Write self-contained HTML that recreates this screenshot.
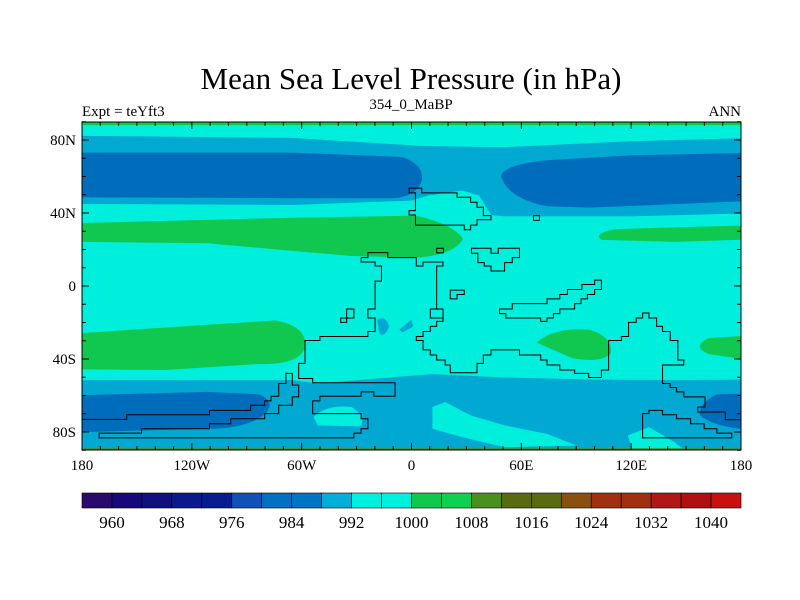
<!DOCTYPE html>
<html><head><meta charset="utf-8">
<style>
html,body{margin:0;padding:0;background:#fff;}
svg{display:block;font-family:"Liberation Serif",serif;}
</style></head>
<body>
<svg id="chart" width="800" height="600" viewBox="0 0 800 600">
<text x="411" y="89" text-anchor="middle" font-size="31">Mean Sea Level Pressure (in hPa)</text>
<text x="82" y="116" font-size="15">Expt = teYft3</text>
<text x="411" y="109" text-anchor="middle" font-size="15">354_0_MaBP</text>
<text x="741" y="116" text-anchor="end" font-size="15">ANN</text>
<defs><clipPath id="pc"><rect x="82" y="122" width="659" height="328"/></clipPath></defs>
<g clip-path="url(#pc)">
<rect x="82" y="122" width="659" height="328" fill="#00eedc"/>
<g transform="translate(80,115) scale(0.4246,0.3356)">
<rect x="0" y="0" width="1600" height="30" fill="#10c850"/>
<path d="M0,62 L500,68 L800,92 L1000,96 L1300,78 L1600,68 L1600,292 L1300,302 L1000,302 L968,298 L940,240 L900,225 L820,240 L780,255 L500,268 L0,265 Z" fill="#00a8d2"/>
<path d="M0,112 L500,112 L760,125 Q812,150 805,195 Q795,240 740,248 L500,248 L0,245 Z" fill="#006cbc"/>
<path d="M1600,112 L1300,120 L1100,135 Q990,150 992,185 Q1010,250 1100,272 L1200,276 L1600,255 Z" fill="#006cbc"/>
<path d="M0,322 L500,306 L790,300 Q880,325 902,370 Q880,418 790,425 L640,420 L500,405 L300,382 L0,378 Z" fill="#10c850"/>
<path d="M1600,328 L1400,335 L1260,340 Q1205,355 1230,372 L1400,378 L1600,370 Z" fill="#10c850"/>
<path d="M0,650 L300,625 L460,612 Q535,630 530,690 Q520,745 420,742 L200,760 L0,758 Z" fill="#10c850"/>
<path d="M1075,678 Q1120,630 1200,640 Q1255,660 1250,710 Q1230,740 1160,725 Z" fill="#10c850"/>
<path d="M1600,655 L1480,665 Q1440,690 1480,712 L1600,735 Z" fill="#10c850"/>
<path d="M0,790 L500,790 L560,800 L700,785 L830,772 L1000,782 L1200,788 L1400,790 L1600,788 L1600,1010 L0,1010 Z" fill="#00a8d2"/>
<path d="M550,900 Q580,862 640,870 Q675,900 660,928 L560,925 Z" fill="#00eedc"/>
<path d="M830,870 L860,855 L920,895 L1000,925 L1100,950 L1170,985 L1000,990 L900,960 L830,935 Z" fill="#00eedc"/>
<path d="M1290,955 L1340,930 L1400,975 L1420,995 L1300,995 Z" fill="#00eedc"/>
<path d="M0,835 L300,825 L420,832 Q460,850 440,885 Q400,935 300,935 L0,945 Z" fill="#006cbc"/>
<path d="M1600,830 L1500,832 Q1455,860 1460,895 Q1500,935 1600,940 Z" fill="#006cbc"/>
<path d="M700,610 Q720,595 728,630 Q718,665 705,650 Z" fill="#00a8d2"/>
<path d="M752,640 L780,610 L785,630 L760,648 Z" fill="#00a8d2"/>
<rect x="0" y="993" width="1600" height="10" fill="#4a9020"/>
<g fill="none" stroke="#000" stroke-width="1" vector-effect="non-scaling-stroke">
<path vector-effect="non-scaling-stroke" d="M775,218 L805,218 L805,232 L888,232 L888,245 L920,245 L920,260 L935,260 L935,275 L950,275 L950,300 L968,300 L968,312 L935,312 L935,328 L920,328 L920,342 L905,342 L905,328 L790,328 L790,298 L775,298 L775,285 L790,285 L790,232 L775,232 Z"/>
<path vector-effect="non-scaling-stroke" d="M1068,300 L1082,300 L1082,314 L1068,314 Z M840,397 L856,397 L856,411 L840,411 Z M872,522 L905,522 L905,535 L888,535 L888,548 L872,548 Z M628,578 L645,578 L645,605 L628,605 L628,618 L614,618 L614,605 L628,605 Z"/>
<path vector-effect="non-scaling-stroke" d="M922,397 L968,397 L968,412 L985,412 L985,397 L1035,397 L1035,425 L1018,425 L1018,440 L1000,440 L1000,465 L968,465 L968,450 L952,450 L952,440 L937,440 L937,412 L922,412 Z"/>
<path vector-effect="non-scaling-stroke" d="M988,578 L1018,578 L1018,562 L1100,562 L1100,548 L1130,548 L1130,535 L1148,535 L1148,520 L1182,520 L1182,505 L1212,505 L1212,492 L1228,492 L1228,520 L1212,520 L1212,535 L1195,535 L1195,548 L1180,548 L1180,562 L1165,562 L1165,578 L1130,578 L1130,592 L1115,592 L1115,605 L1100,605 L1100,615 L1085,615 L1085,605 L1003,605 L1003,592 L988,592 Z"/>
<path vector-effect="non-scaling-stroke" d="M662,425 L678,425 L678,410 L725,410 L725,425 L792,425 L792,450 L808,450 L808,438 L855,438 L855,450 L840,450 L840,578 L855,578 L855,605 L825,605 L825,578 L840,578 M855,605 L855,615 L840,615 L840,630 L825,630 L825,645 L808,645 L808,660 L792,660 L792,672 L808,672 L808,700 L825,700 L825,715 L840,715 L840,730 L860,730 L860,745 L872,745 L872,768 L935,768 L935,740 L950,740 L950,715 L968,715 L968,700 L1035,700 L1035,715 L1085,715 L1085,730 L1100,730 L1100,745 L1130,745 L1130,760 L1165,760 L1165,770 L1198,770 L1198,782 L1228,782 L1228,760 L1245,760 L1245,672 L1275,672 L1275,660 L1292,660 L1292,618 L1310,618 L1310,605 L1325,605 L1325,590 L1340,590 L1340,605 L1358,605 L1358,630 L1372,630 L1372,645 L1390,645 L1390,672 L1408,672 L1408,730 L1422,730 L1422,745 L1372,745 L1372,800 L1390,800 L1390,812 L1405,812 L1405,825 L1422,825 L1422,840 L1472,840 L1472,870 L1455,870 L1455,885 L1520,885 L1520,908 L1600,908"/>
<path vector-effect="non-scaling-stroke" d="M662,425 L662,438 L695,438 L695,450 L710,450 L710,495 L695,495 L695,578 L678,578 L678,605 L695,605 L695,645 L678,645 L678,660 L565,660 L565,672 L530,672 L530,740 L515,740 L515,785 L548,785 L548,798 L742,798 L742,838 L692,838 L692,825 L662,825 L662,838 L565,838 L565,852 L548,852 L548,890 L662,890 L662,905 L678,905 L678,935 L662,935 L662,948 L645,948 L645,962 L45,962 L45,948 L145,948 L145,935 L305,935 L305,920 L355,920 L355,905 L435,905 L435,890 L468,890 L468,865 L500,865 L500,840 L515,840 L515,805 L500,805 L500,770 L485,770 L485,800 L468,800 L468,838 L450,838 L450,852 L435,852 L435,865 L402,865 L402,880 L305,880 L305,893 L110,893 L110,907 L0,907"/>
<path vector-effect="non-scaling-stroke" d="M1325,955 L1325,890 L1340,890 L1340,880 L1372,880 L1372,893 L1405,893 L1405,905 L1438,905 L1438,920 L1470,920 L1470,935 L1500,935 L1500,948 L1535,948 L1535,962 L1325,962 Z"/>
</g>
</g>
</g>
<rect x="82" y="122" width="659" height="328" fill="none" stroke="#000" stroke-width="1"/>
<g id="axes"></g>
<g id="colorbar"></g>
<script>
var lonTicks=[-180,-120,-60,0,60,120,180];
var lonLabels=["180","120W","60W","0","60E","120E","180"];
var latTicks=[80,40,0,-40,-80];
var latLabels=["80N","40N","0","40S","80S"];
var cbLevels=[960,964,968,972,976,980,984,988,992,996,1000,1004,1008,1012,1016,1020,1024,1028,1032,1036,1040];
var cbLabels=[960,968,976,984,992,1000,1008,1016,1024,1032,1040];
var cbColors=["#2a0a6a","#160a7a","#10107e","#0a1a8e","#081c92","#1050b8","#0070c0","#0074c4","#00aed8","#00f0e0","#00f0e0","#10c850","#10d050","#4a9020","#5a6a10","#5a6a10","#8a5010","#a03010","#a03010","#b01818","#b01010","#c81010"];
var NS="http://www.w3.org/2000/svg";
function xs(lon){return 82+(lon+180)/360*659;}
function ys(lat){return 286-lat*73/40;}
function mk(tag,attrs,parent){var e=document.createElementNS(NS,tag);for(var k in attrs)e.setAttribute(k,attrs[k]);parent.appendChild(e);return e;}
var ax=document.getElementById('axes');
for(var l=-180;l<=180;l+=10){var major=(l%60===0);var len=major?7:4;
 var t1=mk('line',{x1:xs(l),x2:xs(l),y1:450,y2:450-len,stroke:'#000'},ax);
 
 
 var t2=mk('line',{x1:xs(l),x2:xs(l),y1:122,y2:122+len,stroke:'#000'},ax);
 
 }
for(var a=-90;a<=90;a+=10){var maj=(a%40===0);var ln=maj?7:4;
 var u1=mk('line',{x1:82,x2:82+ln,y1:ys(a),y2:ys(a),stroke:'#000'},ax);
 
 
 var u2=mk('line',{x1:741,x2:741-ln,y1:ys(a),y2:ys(a),stroke:'#000'},ax);
 
 }
lonTicks.forEach(function(v,i){var t=mk('text',{x:xs(v),y:470,'text-anchor':'middle','font-size':15},ax);t.textContent=lonLabels[i];
 
 });
latTicks.forEach(function(v,i){var t=mk('text',{x:76,y:ys(v)+5,'text-anchor':'end','font-size':15},ax);t.textContent=latLabels[i];
 
 });
var cb=document.getElementById('colorbar');
var bw=659/cbColors.length;
cbColors.forEach(function(c,i){var r=mk('rect',{x:82+i*bw,y:493,width:bw,height:15,fill:c,stroke:'#000','stroke-width':0.6},cb);
 
 });
cbLabels.forEach(function(v){var idx=cbLevels.indexOf(v)+1;var t=mk('text',{x:82+idx*bw,y:528,'text-anchor':'middle','font-size':17},cb);t.textContent=v;
 
 });
</script>
</svg>
</body></html>
